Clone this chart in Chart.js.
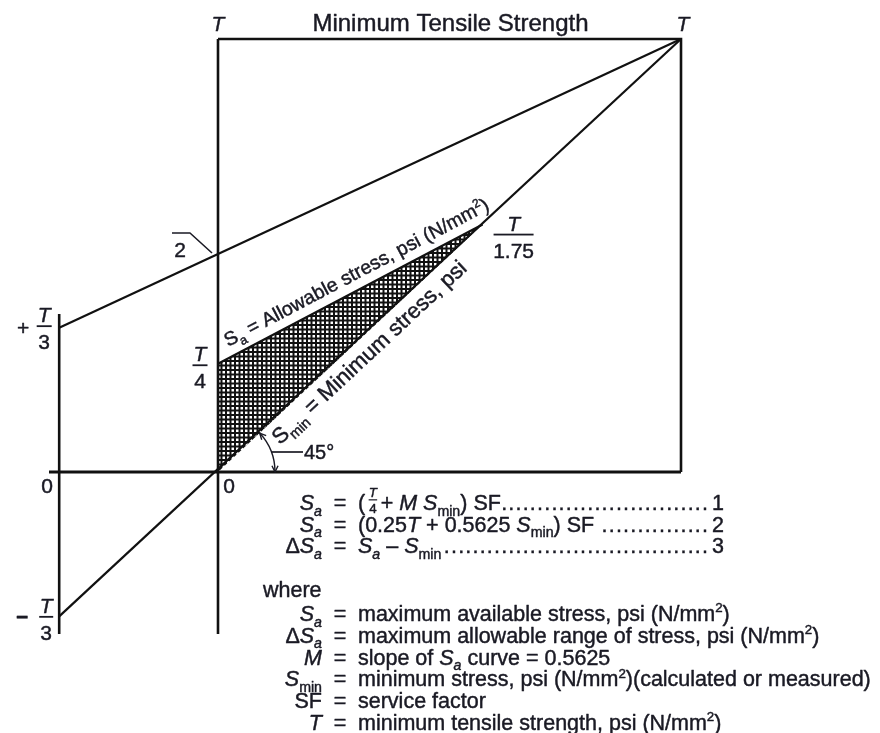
<!DOCTYPE html>
<html>
<head>
<meta charset="utf-8">
<style>
  html, body { margin: 0; padding: 0; background: #fff; }
  #wrap { width: 880px; height: 733px; }
  canvas { display: block; }
</style>
<script src="https://cdn.jsdelivr.net/npm/chart.js@4/dist/chart.umd.min.js"></script>
</head>
<body>
<div id="wrap"><canvas id="c" width="880" height="733"></canvas></div>
<script>
// Modified Goodman diagram for spring design. All stresses are in units of T,
// the minimum tensile strength: x = minimum stress, y = maximum stress.
const T = 1;
const strengthBox   = [[0, T], [T, T], [T, 0]];              // T level and right edge
const centreAxis    = [[0, T], [0, -0.374 * T]];
const auxAxis       = [[-0.343, 0.365 * T], [-0.343, -0.374 * T]];
const zeroLine      = [[-0.365, 0], [T, 0]];
const upperLimit    = [[-0.343, T / 3], [T, T]];              // through T/2 at x = 0
const lowerLimit    = [[-0.343, -T / 3], [T, T]];             // 45° minimum-stress line
const allowableLine = [[0, T / 4], [T / 1.75, T / 1.75]];     // Sa = T/4 + 0.5625 Smin
const workingZone   = [[0, 0], [0, T / 4], [T / 1.75, T / 1.75], [0, 0]];

const INK = '#1a1a24';
const FONT = '"Liberation Sans", Arial, Helvetica, sans-serif';
const fnt = (size, italic) => (italic ? 'italic ' : '') + size + 'px ' + FONT;

// rich-text pieces (sizes and shifts relative to the run's font size)
const r  = t => ({ t });
const it = t => ({ t, it: true });
const sb = (t, i) => ({ t, it: !!i, k: 0.66, dy: 0.26 });
const sp = t => ({ t, k: 0.62, dy: -0.4 });
const fr = (n, d) => ({ frac: [n, d], k: 0.62, w: 0.72 });

const formulaRows = [
  { lhs: [it('S'), sb('a', true)], rhs: [r('('), fr('T', '4'), r('+ '), it('M'), r(' '), it('S'), sb('min'), r(') SF')], no: '1' },
  { lhs: [it('S'), sb('a', true)], rhs: [r('(0.25'), it('T'), r(' + 0.5625 '), it('S'), sb('min'), r(') SF')], no: '2' },
  { lhs: [r('\u0394'), it('S'), sb('a', true)], rhs: [it('S'), sb('a', true), r(' \u2013 '), it('S'), sb('min')], no: '3' }
];

const definitions = [
  { lhs: [it('S'), sb('a', true)], rhs: [r('maximum available stress, psi (N/mm'), sp('2'), r(')')] },
  { lhs: [r('\u0394'), it('S'), sb('a', true)], rhs: [r('maximum allowable range of stress, psi (N/mm'), sp('2'), r(')')] },
  { lhs: [it('M')], rhs: [r('slope of '), it('S'), sb('a', true), r(' curve = 0.5625')] },
  { lhs: [it('S'), sb('min')], rhs: [r('minimum stress, psi (N/mm'), sp('2'), r(')(calculated or measured)')] },
  { lhs: [r('SF')], rhs: [r('service factor')] },
  { lhs: [it('T')], rhs: [r('minimum tensile strength, psi (N/mm'), sp('2'), r(')')] }
];

const allowableLabel = [r('S'), sb('a'), r(' = Allowable stress, psi (N/mm'), sp('2'), r(')')];
const minStressLabel = [r('S'), sb('min'), r(' = Minimum stress, psi')];

// text is drawn with a hairline outline of the same ink to give it body
function ink(ctx, s, x, y) {
  ctx.fillText(s, x, y);
  ctx.strokeText(s, x, y);
}

function runWidth(ctx, segs, size) {
  let w = 0;
  for (const s of segs) {
    if (s.frac) { w += s.w * size; continue; }
    ctx.font = fnt(size * (s.k || 1), s.it);
    w += ctx.measureText(s.t).width;
  }
  return w;
}

function drawRun(ctx, segs, x, y, size, align) {
  const w = runWidth(ctx, segs, size);
  let cx = align === 'right' ? x - w : align === 'center' ? x - w / 2 : x;
  ctx.textAlign = 'left';
  for (const s of segs) {
    if (s.frac) {
      const fs = size * s.k, fw = s.w * size, mid = cx + fw / 2;
      ctx.textAlign = 'center';
      ctx.font = fnt(fs, true);
      ink(ctx, s.frac[0], mid, y - size * 0.6);
      ctx.font = fnt(fs, false);
      ink(ctx, s.frac[1], mid, y + size * 0.15);
      ctx.fillRect(mid - fs * 0.32, y - size * 0.5, fs * 0.64, 1.2);
      ctx.textAlign = 'left';
      cx += fw;
      continue;
    }
    ctx.font = fnt(size * (s.k || 1), s.it);
    ink(ctx, s.t, cx, y + (s.dy || 0) * size);
    cx += ctx.measureText(s.t).width;
  }
  return cx;
}

// stacked fraction label such as T over 3
function drawFrac(ctx, cx, barY, num, den, size, barW) {
  ctx.textAlign = 'center';
  ctx.font = fnt(size, true);
  ink(ctx, num, cx, barY - 4);
  ctx.font = fnt(size, false);
  ink(ctx, den, cx, barY + 23);
  ctx.fillRect(cx - barW / 2, barY - 0.9, barW, 1.8);
}

function arrowHead(ctx, tip, dir, len) {
  const a = Math.atan2(dir[1], dir[0]);
  ctx.beginPath();
  ctx.moveTo(tip[0] - len * Math.cos(a - 0.45), tip[1] - len * Math.sin(a - 0.45));
  ctx.lineTo(tip[0], tip[1]);
  ctx.lineTo(tip[0] - len * Math.cos(a + 0.45), tip[1] - len * Math.sin(a + 0.45));
  ctx.stroke();
}

const labelsPlugin = {
  id: 'goodmanLabels',
  afterDatasetsDraw(chart) {
    const ctx = chart.ctx;
    const X = v => chart.scales.x.getPixelForValue(v);
    const Y = v => chart.scales.y.getPixelForValue(v);
    ctx.save();
    ctx.fillStyle = INK;
    ctx.strokeStyle = INK;
    ctx.textBaseline = 'alphabetic';
    ctx.lineWidth = 0.45;
    ctx.lineJoin = 'round';

    // top labels
    ctx.textAlign = 'center';
    ctx.font = fnt(21, true);
    ink(ctx, 'T', X(0), Y(T) - 8);
    ink(ctx, 'T', X(T) + 2, Y(T) - 8);
    ctx.font = fnt(24, false);
    ink(ctx, 'Minimum Tensile Strength', X(0.5) + 1, Y(T) - 8);

    // +T/3 and -T/3 on the auxiliary axis
    const ax = X(auxAxis[0][0]);
    ctx.font = fnt(21, false);
    ink(ctx, '+', ax - 36, Y(T / 3) + 7);
    drawFrac(ctx, ax - 15, Y(T / 3) - 1.5, 'T', '3', 21, 15);
    ctx.font = 'bold ' + fnt(21, false);
    ink(ctx, '\u2212', ax - 37, Y(-T / 3) + 8);
    drawFrac(ctx, ax - 13, Y(-T / 3) + 0.5, 'T', '3', 21, 14);

    // zeros
    ctx.textAlign = 'center';
    ctx.font = fnt(21, false);
    ink(ctx, '0', ax - 12, Y(0) + 21);
    ink(ctx, '0', X(0) + 11, Y(0) + 21);

    // T/4 and T/1.75
    drawFrac(ctx, X(0) - 18, Y(T / 4) + 1.5, 'T', '4', 21, 15);
    drawFrac(ctx, X(T / 1.75) + 31, Y(T / 1.75) + 10, 'T', '1.75', 21, 40);

    // T/2 marker
    const hy = Y(0.5), hx = X(0);
    ctx.lineWidth = 1.6;
    ctx.beginPath();
    ctx.moveTo(hx - 46, hy - 22.5);
    ctx.lineTo(hx - 28, hy - 22.5);
    ctx.lineTo(hx - 6, hy - 2.5);
    ctx.stroke();
    ctx.lineWidth = 0.45;
    ctx.font = fnt(21, false);
    ink(ctx, '2', hx - 38, hy + 1.5);

    // 45 degree arc with arrows
    const ox = X(0), oy = Y(0), rad = 57;
    const a0 = Math.atan2(Y(T) - oy, X(T) - ox);
    ctx.lineWidth = 1.4;
    ctx.beginPath();
    ctx.arc(ox, oy, rad, a0, 0);
    ctx.stroke();
    arrowHead(ctx, [ox + rad * Math.cos(a0), oy + rad * Math.sin(a0)], [Math.sin(a0), -Math.cos(a0)], 7);
    arrowHead(ctx, [ox + rad, oy], [0, 1], 7);
    ctx.lineWidth = 1.7;
    ctx.beginPath();
    ctx.moveTo(ox + Math.sqrt(rad * rad - 400), oy - 20);
    ctx.lineTo(ox + 85, oy - 20);
    ctx.stroke();
    ctx.lineWidth = 0.45;
    ctx.textAlign = 'left';
    ctx.font = fnt(20, false);
    ink(ctx, '45\u00b0', ox + 86, oy - 13);

    // labels along the allowable-stress and minimum-stress lines
    const sa0 = allowableLine[0], sa1 = allowableLine[1];
    const angA = Math.atan2(Y(sa1[1]) - Y(sa0[1]), X(sa1[0]) - X(sa0[0]));
    const ta = 0.04;
    ctx.save();
    ctx.translate(X(ta), Y(sa0[1] + (sa1[1] - sa0[1]) / (sa1[0] - sa0[0]) * ta));
    ctx.rotate(angA);
    drawRun(ctx, allowableLabel, -4, -10, 19.5, 'left');
    ctx.restore();

    const angM = Math.atan2(Y(T) - Y(0), X(T) - X(0));
    const tm = 0.10;
    ctx.save();
    ctx.translate(X(tm), Y(tm));
    ctx.rotate(angM);
    drawRun(ctx, minStressLabel, 0, 23, 22, 'left');
    ctx.restore();

    // formula block
    const fs = 21.5, colR = 322, eqX = 340, txtX = 358, dotEnd = 708, noX = 712;
    const rowY = [510, 531.5, 553];
    formulaRows.forEach((row, i) => {
      const y = rowY[i];
      drawRun(ctx, row.lhs, colR, y, fs, 'right');
      ctx.textAlign = 'center'; ctx.font = fnt(fs, false);
      ink(ctx, '=', eqX, y);
      const end = drawRun(ctx, row.rhs, txtX, y, fs, 'left');
      const n = Math.floor((dotEnd - end - 2) / 7);
      ctx.font = fnt(fs, false);
      ctx.textAlign = 'right';
      ctx.letterSpacing = '1.2px';
      ink(ctx, '.'.repeat(n), dotEnd + 1.2, y);
      ctx.letterSpacing = '0px';
      ctx.textAlign = 'left';
      ink(ctx, row.no, noX, y);
    });

    ctx.textAlign = 'left';
    ctx.font = fnt(fs, false);
    ink(ctx, 'where', 263, 597);
    definitions.forEach((d, i) => {
      const y = 621 + i * 21.8;
      drawRun(ctx, d.lhs, colR, y, fs, 'right');
      ctx.textAlign = 'center'; ctx.font = fnt(fs, false);
      ink(ctx, '=', eqX, y);
      drawRun(ctx, d.rhs, txtX, y, fs, 'left');
    });
    ctx.restore();
  }
};

// square cross-hatch for the working zone
function hatchPattern() {
  const c = document.createElement('canvas');
  c.width = 9; c.height = 9;
  const g = c.getContext('2d');
  g.fillStyle = '#111';
  g.fillRect(0, 0, 9, 2);
  g.fillRect(0, 4.5, 9, 2);
  g.fillRect(0, 0, 2, 9);
  g.fillRect(4.5, 0, 2, 9);
  return g.createPattern(c, 'repeat');
}

const pts = a => a.map(([x, y]) => ({ x, y }));
const lineSet = (data, width) => ({
  data: pts(data), showLine: true, pointRadius: 0, borderColor: '#111',
  borderWidth: width, fill: false, tension: 0, borderJoinStyle: 'miter', borderCapStyle: 'butt'
});

new Chart(document.getElementById('c'), {
  type: 'scatter',
  data: {
    datasets: [
      lineSet(strengthBox, 2.6),
      lineSet(centreAxis, 2.6),
      lineSet(auxAxis, 2.6),
      lineSet(zeroLine, 2.8),
      lineSet(upperLimit, 2.2),
      lineSet(lowerLimit, 2.2),
      lineSet(allowableLine, 2.2),
      {
        data: pts(workingZone), showLine: true, pointRadius: 0, borderWidth: 0,
        borderColor: 'rgba(0,0,0,0)', backgroundColor: hatchPattern(), fill: 'shape', tension: 0
      }
    ]
  },
  options: {
    responsive: false,
    devicePixelRatio: 1,
    animation: false,
    layout: { padding: 0 },
    plugins: { legend: { display: false }, tooltip: { enabled: false } },
    scales: {
      x: { type: 'linear', display: false, min: -218 / 463, max: 662 / 463 },
      y: { type: 'linear', display: false, min: -261 / 433, max: 472 / 433 }
    }
  },
  plugins: [labelsPlugin]
});
</script>
</body>
</html>
